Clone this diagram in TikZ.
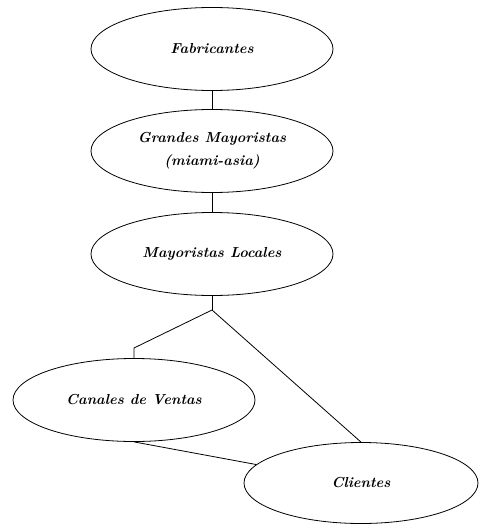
\documentclass[tikz,border=0pt]{standalone}
\usetikzlibrary{shapes.geometric}
\begin{document}
\begin{tikzpicture}[x=1pt,y=-1pt,
  ell/.style={draw,ellipse,line width=0.8pt,inner sep=0pt,
    minimum width=242pt,minimum height=83pt,
    font=\fontsize{14.5}{23}\selectfont\bfseries\itshape,align=center},
  conn/.style={draw,line width=0.8pt}]
\useasboundingbox (0,0) rectangle (479,524);
\node[ell] (fab) at (212,49) {Fabricantes};
\node[ell] (gra) at (212,151) {Grandes Mayoristas\\(miami-asia)};
\node[ell] (loc) at (212,254) {Mayoristas Locales};
\node[ell] (can) at (134,400) {Canales de Ventas};
\node[ell,minimum width=234pt,minimum height=81pt] (cli) at (361,483) {Clientes};
\coordinate (br) at (212,310);
\coordinate (bend) at (134,348);
\draw[conn] (fab) -- (gra);
\draw[conn] (gra) -- (loc);
\draw[conn] (loc.south) -- (br);
\draw[conn] (br) -- (bend) -- (can.north);
\draw[conn] (br) -- (cli.north);
\draw[conn] (can.south) -- (cli.170);
\end{tikzpicture}
\end{document}
